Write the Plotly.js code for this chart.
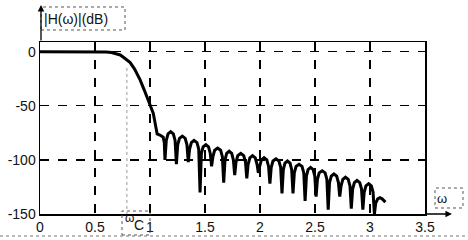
<!DOCTYPE html>
<html>
<head>
<meta charset="utf-8">
<script src="https://cdn.plot.ly/plotly-3.0.1.min.js"></script>
<style>html,body{margin:0;padding:0;background:#fff;}#chart{width:468px;height:240px;}</style>
</head>
<body>
<div id="chart"></div>
<script>
// passband and transition band (omega, dB)
var passX = [0, 0.1, 0.2, 0.3, 0.4, 0.5, 0.55, 0.6, 0.65, 0.7, 0.73, 0.77, 0.82, 0.86, 0.91, 0.95, 0.97, 1.0, 1.03, 1.05, 1.065, 1.09, 1.12, 1.13];
var passY = [0, 0, 0, 0, 0, 0, 0, -0.3, -0.8, -1.8, -3, -6, -10, -16, -26, -36, -42, -49, -57, -68, -76, -77, -79, -84];
// stopband side lobes (omega, dB)
var lobeX = [1.136, 1.148, 1.164, 1.188, 1.212, 1.228,
  1.24, 1.252, 1.268, 1.294, 1.32, 1.336,
  1.348, 1.36, 1.376, 1.40, 1.427, 1.443,
  1.455, 1.467, 1.483, 1.508, 1.532, 1.548,
  1.56, 1.572, 1.588, 1.615, 1.642, 1.658,
  1.67, 1.682, 1.697, 1.72, 1.743, 1.758,
  1.77, 1.782, 1.798, 1.825, 1.852, 1.868,
  1.88, 1.892, 1.908, 1.932, 1.957, 1.973,
  1.985, 1.997, 2.013, 2.037, 2.062, 2.078,
  2.09, 2.102, 2.118, 2.145, 2.172, 2.188,
  2.2, 2.212, 2.227, 2.25, 2.273, 2.288,
  2.3, 2.312, 2.328, 2.355, 2.382, 2.398,
  2.41, 2.422, 2.437, 2.46, 2.483, 2.498,
  2.51, 2.522, 2.538, 2.565, 2.592, 2.608,
  2.62, 2.632, 2.648, 2.672, 2.697, 2.713,
  2.725, 2.737, 2.753, 2.777, 2.802, 2.818,
  2.83, 2.842, 2.858, 2.882, 2.907, 2.923,
  2.935, 2.947, 2.963, 2.988, 3.012, 3.028,
  3.04, 3.052, 3.07, 3.09, 3.11, 3.14];
var lobeY = [-100, -82, -76, -74, -76, -82,
  -104, -86, -80, -78, -80, -86,
  -102, -90, -84, -82, -84, -90,
  -130, -94, -88, -86, -88, -94,
  -106, -97, -91, -89, -91, -97,
  -121, -100, -94, -92, -94, -100,
  -114, -102, -96, -94, -96, -102,
  -117, -104, -98, -96, -98, -104,
  -112, -106, -100, -98, -100, -106,
  -122, -107, -101, -99, -101, -107,
  -131, -109, -103, -101, -103, -109,
  -131, -112, -106, -104, -106, -112,
  -138, -115, -109, -107, -109, -115,
  -134, -118, -112, -110, -112, -118,
  -146, -121, -115, -113, -115, -121,
  -134, -124, -118, -116, -118, -124,
  -145, -127, -121, -119, -121, -127,
  -146, -130, -124, -122, -124, -130,
  -150, -140, -136, -135, -136, -139];
var xTicks = [0, 0.5, 1, 1.5, 2, 2.5, 3, 3.5];
var xTickText = ['0', '0.5', '1', '1.5', '2', '2.5', '3', '3.5'];
var yTicks = [0, -50, -100, -150];
var yTickText = ['0', '-50', '-100', '-150'];
var omegaC = 0.79;

var trace = {
  x: passX.concat(lobeX),
  y: passY.concat(lobeY),
  mode: 'lines',
  line: {color: '#000', width: 3},
  hoverinfo: 'skip'
};
var fnt = {family: 'Liberation Sans, Arial, sans-serif', size: 14, color: '#111'};
var layout = {
  width: 468, height: 240,
  margin: {l: 40, r: 43, t: 42, b: 26},
  paper_bgcolor: '#fff', plot_bgcolor: '#fff',
  showlegend: false,
  font: fnt,
  xaxis: {
    range: [0, 3.5], tickvals: xTicks, ticktext: xTickText,
    showgrid: true, gridcolor: '#000', griddash: 'dash', gridwidth: 1.2,
    zeroline: false, showline: true, linecolor: '#000', linewidth: 1.5, mirror: true,
    ticks: '', tickfont: fnt, fixedrange: true
  },
  yaxis: {
    range: [-150, 9], tickvals: yTicks, ticktext: yTickText,
    showgrid: true, gridcolor: '#000', griddash: 'dash', gridwidth: 1.2,
    zeroline: false, showline: true, linecolor: '#000', linewidth: 1.5, mirror: true,
    ticks: '', tickfont: fnt, fixedrange: true
  },
  shapes: [
    {type: 'line', xref: 'x', yref: 'y', x0: omegaC, x1: omegaC, y0: -15, y1: -150,
     line: {color: '#999', width: 1, dash: 'dot'}},
    {type: 'rect', xref: 'paper', yref: 'paper', x0: 0.0026, x1: 0.2208, y0: 1.0698, y1: 1.2035,
     line: {color: '#555', width: 1, dash: 'dot'}},
    {type: 'rect', xref: 'paper', yref: 'paper', x0: 0.213, x1: 0.2857, y0: -0.122, y1: 0.0174,
     line: {color: '#555', width: 1, dash: 'dot'}},
    {type: 'rect', xref: 'paper', yref: 'paper', x0: 1.026, x1: 1.0987, y0: 0.0349, y1: 0.151,
     line: {color: '#555', width: 1, dash: 'dot'}},
    {type: 'line', xref: 'paper', yref: 'paper', x0: -0.1039, x1: 1.1117, y0: -0.128, y1: -0.128,
     line: {color: '#777', width: 1, dash: 'dot'}}
  ],
  annotations: [
    {xref: 'paper', yref: 'paper', x: 0.0026, y: 1.215, ax: 0, ay: 37, axref: 'pixel', ayref: 'pixel',
     text: '', showarrow: true, arrowhead: 2, arrowsize: 1, arrowwidth: 1.3, arrowcolor: '#000'},
    {xref: 'paper', yref: 'paper', x: 1.07, y: 0, ax: -27, ay: 0, axref: 'pixel', ayref: 'pixel',
     text: '', showarrow: true, arrowhead: 2, arrowsize: 1, arrowwidth: 1.3, arrowcolor: '#000'},
    {xref: 'paper', yref: 'paper', x: 0.005, y: 1.134, xanchor: 'left', yanchor: 'middle',
     text: '|H(ω)|(dB)', showarrow: false, font: {family: fnt.family, size: 14, color: '#111'}},
    {xref: 'paper', yref: 'paper', x: (129 - 40) / 385, y: (214 - 218) / 172, xanchor: 'center', yanchor: 'middle',
     text: 'ω', showarrow: false, font: {family: fnt.family, size: 12, color: '#111'}},
    {xref: 'paper', yref: 'paper', x: (139 - 40) / 385, y: (214 - 225) / 172, xanchor: 'center', yanchor: 'middle',
     text: 'C', showarrow: false, font: {family: fnt.family, size: 14, color: '#111'}},
    {xref: 'paper', yref: 'paper', x: (442 - 40) / 385, y: (214 - 198) / 172, xanchor: 'center', yanchor: 'middle',
     text: 'ω', showarrow: false, font: {family: fnt.family, size: 13, color: '#111'}}
  ]
};
Plotly.newPlot('chart', [trace], layout, {displayModeBar: false, staticPlot: true});
</script>
</body>
</html>
